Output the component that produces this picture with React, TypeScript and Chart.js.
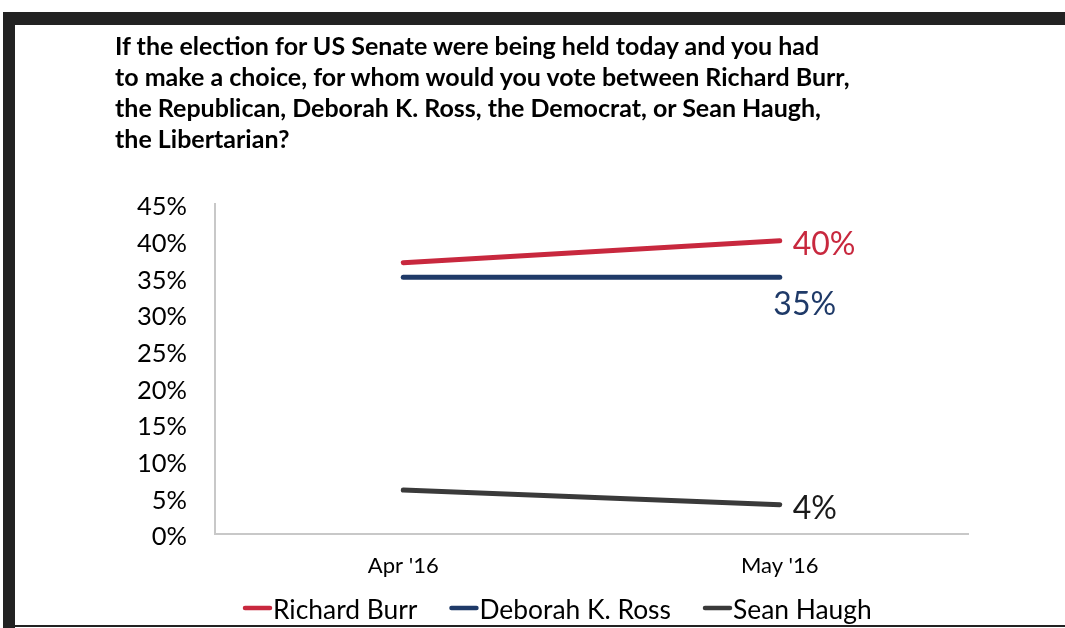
import React, { useEffect, useRef } from "react";
import { Chart, registerables } from "chart.js";

Chart.register(...registerables);

const categories = ["Apr '16", "May '16"];
const seriesNames = ["Richard Burr", "Deborah K. Ross", "Sean Haugh"];
const burrValues = [37, 40];
const rossValues = [35, 35];
const haughValues = [6, 4];
const yTickMax = 45;
const yTickStep = 5;
const titleLines = [
  "If the election for US Senate were being held today and you had",
  "to make a choice, for whom would you vote between Richard Burr,",
  "the Republican, Deborah K. Ross, the Democrat, or Sean Haugh,",
  "the Libertarian?",
];

const colors = ["#C8283E", "#1F3A68", "#3A3A3A"];
const labelColors = ["#C8283E", "#1F3A68", "#1A1A1A"];
const FONT = "Lato, 'Open Sans', sans-serif";

const endLabelPlugin = {
  id: "endLabels",
  afterDatasetsDraw(chart: any) {
    const ctx = chart.ctx;
    ctx.save();
    ctx.font = `32px ${FONT}`;
    chart.data.datasets.forEach((ds: any, i: number) => {
      const meta = chart.getDatasetMeta(i);
      const pt = meta.data[meta.data.length - 1];
      const v = ds.data[ds.data.length - 1];
      ctx.fillStyle = labelColors[i];
      ctx.textBaseline = "middle";
      if (ds.endLabelPos === "below") {
        ctx.textAlign = "center";
        ctx.fillText(v + "%", pt.x + 25, pt.y + 27);
      } else {
        ctx.textAlign = "left";
        ctx.fillText(v + "%", pt.x + 13, pt.y + 4);
      }
    });
    ctx.restore();
  },
};

const legendPlugin = {
  id: "customLegend",
  afterDraw(chart: any) {
    const ctx = chart.ctx;
    ctx.save();
    ctx.font = `26.4px ${FONT}`;
    ctx.textBaseline = "middle";
    ctx.textAlign = "left";
    let x = 243;
    const y = 608;
    chart.data.datasets.forEach((ds: any, i: number) => {
      ctx.strokeStyle = colors[i];
      ctx.lineWidth = 4.5;
      ctx.lineCap = "round";
      ctx.beginPath();
      ctx.moveTo(x + 2, y);
      ctx.lineTo(x + 27, y);
      ctx.stroke();
      ctx.fillStyle = "#000";
      ctx.fillText(ds.label, x + 30, y + 2);
      const w = ctx.measureText(ds.label).width;
      x = x + 30 + w + 32;
    });
    ctx.restore();
  },
};

export default function App() {
  const ref = useRef<HTMLCanvasElement>(null);
  useEffect(() => {
    document.body.style.margin = "0";
    const chart = new Chart(ref.current!, {
      type: "line",
      data: {
        labels: categories,
        datasets: [
          { label: seriesNames[0], data: burrValues, borderColor: colors[0], endLabelPos: "right" } as any,
          { label: seriesNames[1], data: rossValues, borderColor: colors[1], endLabelPos: "below" } as any,
          { label: seriesNames[2], data: haughValues, borderColor: colors[2], endLabelPos: "right" } as any,
        ].map((d: any) => ({
          ...d,
          borderWidth: 5,
          borderCapStyle: "round",
          pointRadius: 0,
          tension: 0,
          fill: false,
        })),
      },
      options: {
        animation: false,
        responsive: false,
        maintainAspectRatio: false,
        layout: { padding: { top: 204, left: 0, right: 97, bottom: 0 } },
        plugins: { legend: { display: false }, title: { display: false }, tooltip: { enabled: false } },
        scales: {
          x: {
            offset: true,
            grid: { display: false, drawTicks: false },
            border: { display: true, color: "#C8C8C8", width: 2 },
            ticks: { color: "#000", font: { family: FONT, size: 22 }, padding: 19 },
            afterFit: (s: any) => { s.height = 94; },
          },
          y: {
            min: 0,
            max: yTickMax,
            grid: { display: false, drawTicks: false },
            border: { display: true, color: "#C8C8C8", width: 2 },
            ticks: {
              stepSize: yTickStep,
              color: "#000",
              font: { family: FONT, size: 25.5 },
              padding: 28,
              labelOffset: 3,
              callback: (v: any) => v + "%",
            },
            afterFit: (s: any) => { s.width = 215; },
          },
        },
      },
      plugins: [endLabelPlugin, legendPlugin],
    } as any);
    return () => chart.destroy();
  }, []);

  return (
    <div style={{ position: "relative", width: 1065, height: 628, background: "#fff", overflow: "hidden" }}>
      <style>{"body{margin:0}"}</style>
      <canvas ref={ref} width={1065} height={628} style={{ position: "absolute", left: 0, top: 0, width: 1065, height: 628 }} />
      <div style={{ position: "absolute", left: 3, top: 12, width: 1062, height: 13, background: "#222" }} />
      <div style={{ position: "absolute", left: 3, top: 12, width: 12, height: 616, background: "#222" }} />
      <div style={{ position: "absolute", left: 15, top: 625, width: 1050, height: 2, background: "#222" }} />
      <div
        style={{
          position: "absolute",
          left: 115,
          top: 30,
          fontFamily: FONT,
          fontWeight: 700,
          fontSize: 25,
          lineHeight: "31px",
          color: "#000",
          whiteSpace: "pre",
        }}
      >
        {titleLines.map((l, i) => (
          <div key={i}>{l}</div>
        ))}
      </div>
    </div>
  );
}
